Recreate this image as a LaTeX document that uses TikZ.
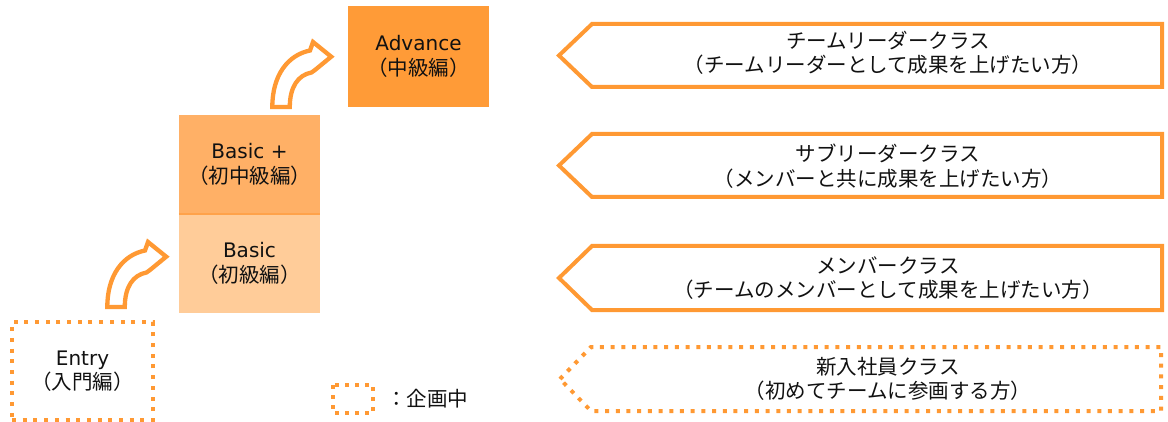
\documentclass[tikz,border=0pt]{standalone}
\usepackage{fontspec}
\setmainfont{DejaVu Sans}
\newfontfamily\jp{Noto Sans CJK JP}
\definecolor{org}{HTML}{FF9933}
\definecolor{advfill}{HTML}{FF9B37}
\definecolor{bpfill}{HTML}{FFB066}
\definecolor{bfill}{HTML}{FFCC99}
\definecolor{divline}{HTML}{FFA24A}
\definecolor{txt}{HTML}{111111}
\begin{document}
\begin{tikzpicture}[x=1pt,y=-1pt,
  lbl/.style={align=center,text=txt,font=\fontsize{20}{24.5}\selectfont,inner sep=0pt},
  levelbox/.style={lbl,minimum width=141,minimum height=99},
  solidline/.style={draw=org,line width=4pt,line join=miter},
  dotline/.style={draw=org,line width=4pt,dash pattern=on 4pt off 6.7pt,line cap=butt},
  arrowline/.style={draw=org,fill=white,line width=4.3pt,line join=miter},
  curvarrow/.pic={\path[arrowline] (12.3,72) .. controls (12.3,40) and (28,20) .. (50,15.5)
     -- (53,7) -- (71.2,21.7) -- (55,35) -- (51.5,37.5)
     .. controls (38,40) and (29.8,52) .. (29.8,72) -- cycle;}
]
\useasboundingbox (0,0) rectangle (1168,422);

% level boxes
\node[levelbox,fill=advfill,minimum height=101] (adv) at (418.5,56.5) {Advance\\{\jp\fontsize{20.5}{24.5}\selectfont （中級編）}};
\node[levelbox,fill=bpfill] (bplus) at (249.5,164.5) {Basic +\\{\jp\fontsize{20.5}{24.5}\selectfont （初中級編）}};
\node[levelbox,fill=bfill] (basic) at (249.5,263.5) {Basic\\{\jp\fontsize{20.5}{24.5}\selectfont （初級編）}};
\draw[divline,line width=2pt] (bplus.south west) -- (bplus.south east);
\node[levelbox,dotline,minimum height=98] (entry) at (82.5,371) {Entry\\{\jp\fontsize{20.5}{24.5}\selectfont （入門編）}};

% curved arrows
\pic at (95,235) {curvarrow};
\pic at (260,35) {curvarrow};

% class pentagons
\path[solidline] (559,55.5) -- (592,24) -- (1162,24) -- (1162,87) -- (592,87) -- cycle;
\path[solidline] (559,165.5) -- (592,134) -- (1162,134) -- (1162,197) -- (592,197) -- cycle;
\path[solidline] (559,278) -- (592,246) -- (1162,246) -- (1162,310) -- (592,310) -- cycle;
\path[dotline] (560,379) -- (591,347) -- (1161,347) -- (1161,411) -- (591,411) -- cycle;

\node[lbl,font=\jp\fontsize{20.5}{24.5}\selectfont] (c1) at (888,53) {チームリーダークラス\\（チームリーダーとして成果を上げたい方）};
\node[lbl,font=\jp\fontsize{20.5}{24.5}\selectfont] (c2) at (888,166) {サブリーダークラス\\（メンバーと共に成果を上げたい方）};
\node[lbl,font=\jp\fontsize{20.5}{24.5}\selectfont] (c3) at (888,278) {メンバークラス\\（チームのメンバーとして成果を上げたい方）};
\node[lbl,font=\jp\fontsize{20.5}{24.5}\selectfont] (c4) at (888,379) {新入社員クラス\\（初めてチームに参画する方）};

% legend
\path[dotline,dash pattern=on 4pt off 6pt] (333,385) rectangle (373,413);
\node[lbl,font=\jp\fontsize{20.5}{24.5}\selectfont,anchor=west] (leg) at (386,399) {：企画中};
\end{tikzpicture}
\end{document}
